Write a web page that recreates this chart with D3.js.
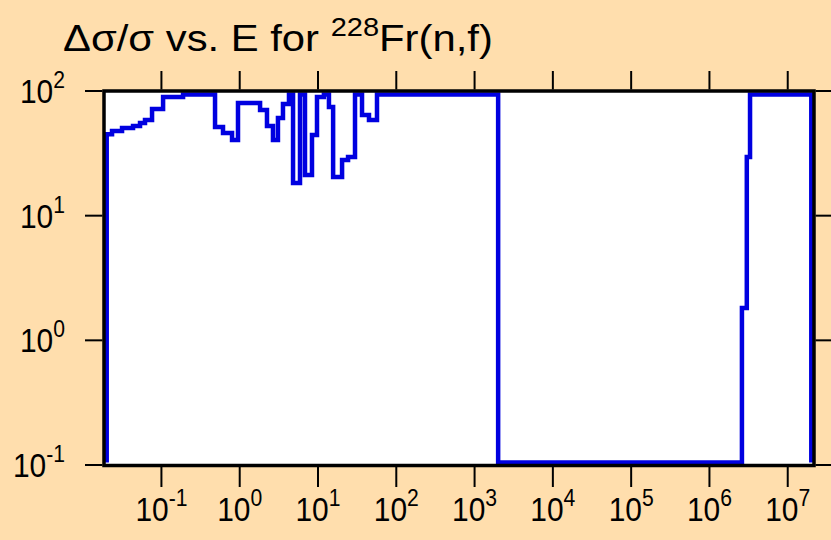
<!DOCTYPE html>
<html>
<head>
<meta charset="utf-8">
<script src="https://cdn.jsdelivr.net/npm/d3@7"></script>
<style>
    body { margin: 0; background: #FFDEAD; }
    svg { display: block; font-family: "Liberation Sans", Arial, sans-serif; }
</style>
</head>
<body>
<script>

// bin edges of the energy grid (eV)
let edges = [0.02, 0.0234, 0.0314, 0.0434, 0.0533, 0.0617, 0.0759, 0.105, 0.189, 0.484,
    0.612, 0.798, 0.951, 1.82, 2.23, 2.66, 3.08, 3.57, 4.26, 4.80,
    5.89, 6.82, 8.38, 9.71, 11.9, 13.8, 15.6, 20.3, 24.2, 29.7,
    36.5, 44.8, 56.7, 2000, 2.6e6, 3.0e6, 3.3e6, 2.0e7];

// relative uncertainty (%) in each bin
let uncert = [45, 47.7, 50.5, 52.4, 55.4, 58.5, 71.7, 89.5, 100, 51.5,
    46, 40.5, 80, 70.4, 52.4, 40.5, 60.7, 78.7, 100, 18.3,
    100, 21.2, 44.4, 89.5, 100, 74.4, 20.4, 28, 29.6, 100,
    64.2, 58.5, 100, 0.1, 1.82, 29.6, 100];

let xTicks = [-1, 0, 1, 2, 3, 4, 5, 6, 7];
let yTicks = [-1, 0, 1, 2];

let width = 831, height = 540;

let svg = d3.select("body").append("svg")
    .attr("width", width).attr("height", height);

let x = d3.scaleLog().domain([0.02, 2e7]).range([106.7, 811.3]);
let y = d3.scaleLog().domain([0.1, 100]).range([465, 91]);

// plot area
svg.append("rect")
    .attr("x", 104).attr("y", 91).attr("width", 710).attr("height", 374.5)
    .attr("fill", "white");

//Step line
let pts = [[edges[0], 0.1]];
for (let i = 0; i < uncert.length; i++) {
    pts.push([edges[i], uncert[i]]);
}
pts.push([edges[edges.length - 1], uncert[uncert.length - 1]]);
pts.push([edges[edges.length - 1], 0.1]);

let line = d3.line()
    .x(function(d) { return x(d[0]); })
    .y(function(d) { return Math.min(Math.max(y(d[1]), 94.5), 462.5); })
    .curve(d3.curveStepAfter);

svg.append("path")
    .attr("d", line(pts))
    .attr("fill", "none")
    .attr("stroke", "#0000e0")
    .attr("stroke-width", 4.5);

//Frame
svg.append("rect")
    .attr("x", 104).attr("y", 91).attr("width", 710).attr("height", 374.5)
    .attr("fill", "none")
    .attr("stroke", "black")
    .attr("stroke-width", 3.5);

//Ticks
let tk = svg.append("g").attr("stroke", "black").attr("stroke-width", 2);

xTicks.forEach(function(p) {
    let px = x(Math.pow(10, p));
    tk.append("line").attr("x1", px).attr("x2", px).attr("y1", 71).attr("y2", 89.5);
    tk.append("line").attr("x1", px).attr("x2", px).attr("y1", 467).attr("y2", 487);
});

yTicks.forEach(function(p) {
    let py = y(Math.pow(10, p));
    tk.append("line").attr("x1", 85).attr("x2", 102.5).attr("y1", py).attr("y2", py);
    tk.append("line").attr("x1", 815.5).attr("x2", 831).attr("y1", py).attr("y2", py);
});

//Labels
function powLabel(g, p, px, py, anchor) {
    let t = g.append("g")
        .attr("transform", "translate(" + px + "," + py + ") scale(0.88,1)")
        .append("text")
        .attr("text-anchor", anchor)
        .attr("font-size", 34)
        .attr("fill", "black");
    t.append("tspan").text("10");
    t.append("tspan").attr("dy", -15).attr("font-size", 24).text(p);
}

let labels = svg.append("g");
xTicks.forEach(function(p) {
    powLabel(labels, p, x(Math.pow(10, p)), 521, "middle");
});
yTicks.forEach(function(p) {
    powLabel(labels, p, 65, y(Math.pow(10, p)) + 12, "end");
});

//Title
let title = svg.append("g").attr("transform", "translate(63,51)");
let tt = title.append("text").attr("font-size", 36).attr("fill", "black");
tt.append("tspan").text("\u0394\u03c3/\u03c3 vs. E for ");
tt.append("tspan").attr("dy", -15).attr("font-size", 25).text("228");
tt.append("tspan").attr("dy", 15).text("Fr(n,f)");

// stretch title to the width it has in the original
let bw = tt.node().getBBox().width;
title.attr("transform", "translate(63,51) scale(" + (430 / bw) + ",1)");

</script>
</body>
</html>
